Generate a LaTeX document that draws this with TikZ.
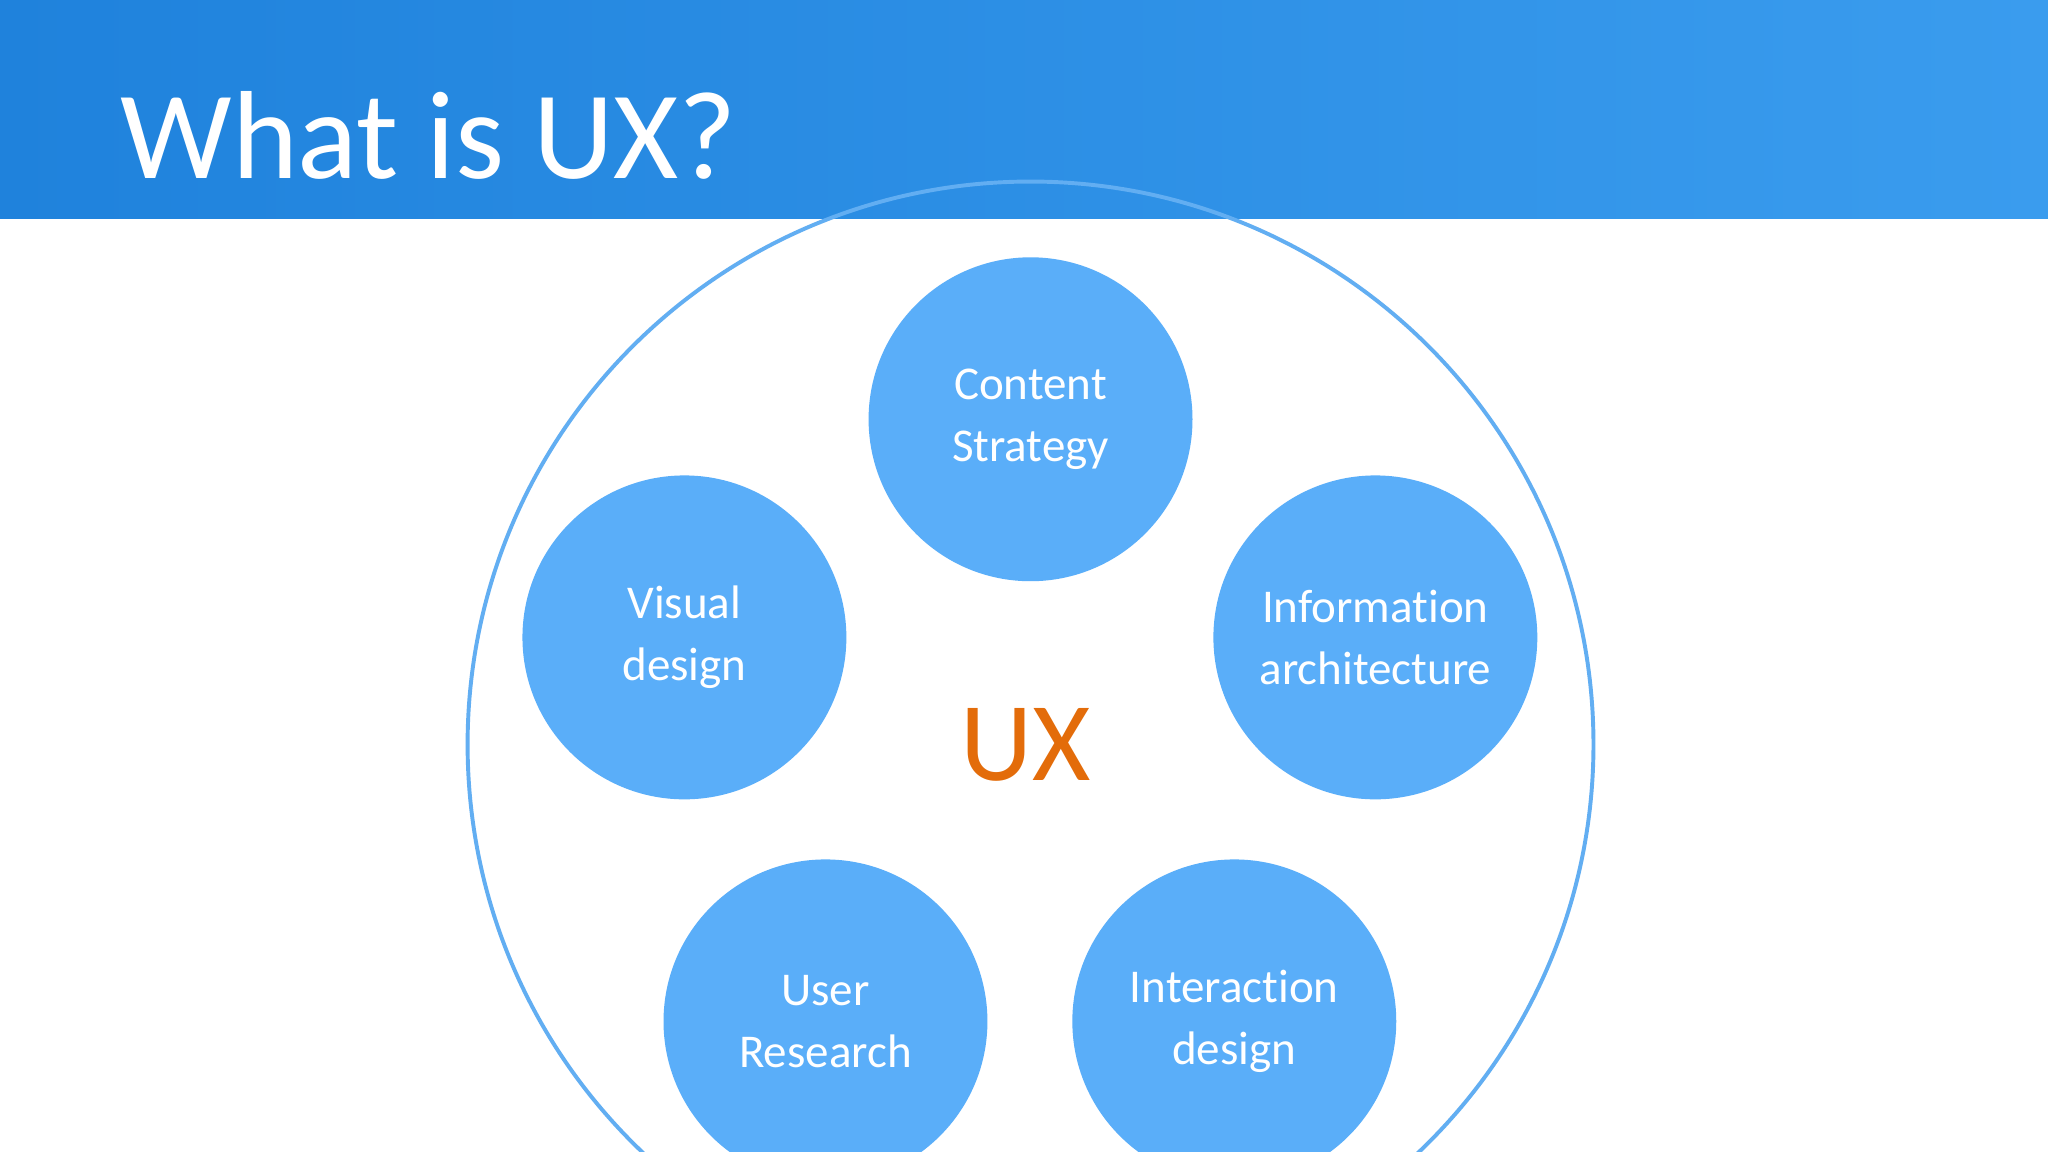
\documentclass[tikz,border=0pt]{standalone}
\usepackage{fontspec}
\setmainfont{Carlito}[Ligatures=NoCommon]
\definecolor{bub}{HTML}{5AAEF9}
\definecolor{ring}{HTML}{62AEF2}
\definecolor{uxo}{HTML}{E36C0A}
\definecolor{hdA}{HTML}{1F82DC}
\definecolor{hdB}{HTML}{3A9CEE}
\begin{document}
\begin{tikzpicture}[x=1pt,y=-1pt,
  bubble/.style={circle,fill=bub,minimum size=248pt,inner sep=0pt,text=white,align=center,font=\fontsize{36}{47}\selectfont}]
\useasboundingbox (0,0) rectangle (1568,882);
\clip (0,0) rectangle (1568,882);
\fill[white] (0,0) rectangle (1568,882);
\shade[left color=hdA,right color=hdB] (0,0) rectangle (1568,167);
\node[anchor=base west,text=white,font=\fontsize{96}{100}\selectfont,inner sep=0pt] (title) at (92,137) {What is UX?};
\node[circle,draw=ring,line width=3pt,minimum size=862pt,inner sep=0pt] (big) at (789,570) {};
\node[bubble] (cs) at (789,321) {Content\\Strategy};
\node[bubble] (vd) at (524,488) {Visual\\design};
\node[bubble] (ia) at (1053,488) {Information\\architecture};
\node[bubble] (ur) at (632,782) {User\\Research};
\node[bubble] (id) at (945,782) {Interaction\\design};
\node[text=uxo,font=\fontsize{86}{90}\selectfont] (ux) at (785,570) {UX};
\end{tikzpicture}
\end{document}
